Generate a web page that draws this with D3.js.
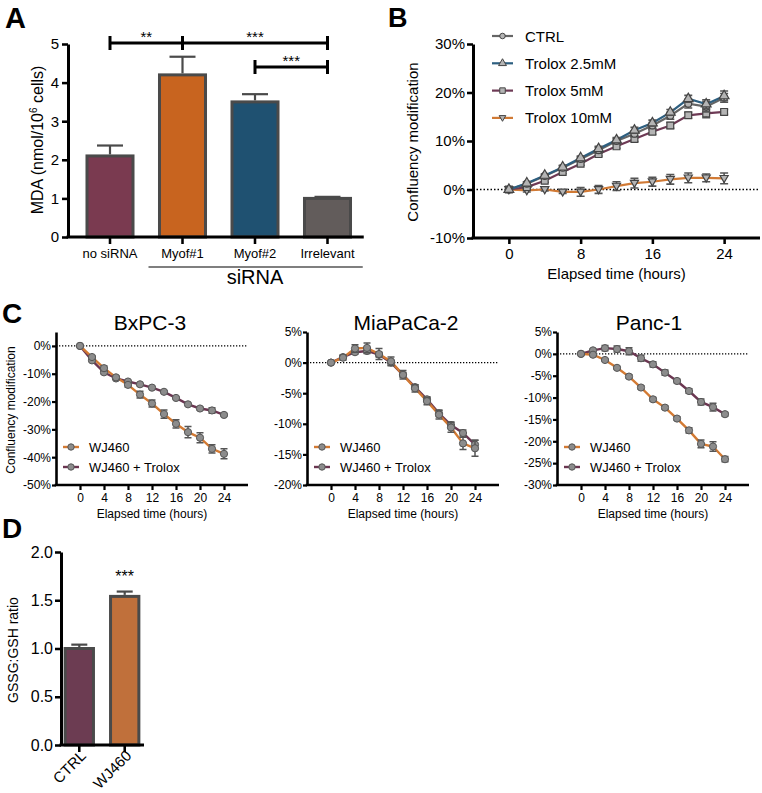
<!DOCTYPE html>
<html><head><meta charset="utf-8">
<script src="https://cdn.jsdelivr.net/npm/d3@7"></script>
<style>body{margin:0;background:#fff}svg{display:block}text{font-family:"Liberation Sans",Arial,sans-serif}</style>
</head><body>
<script>
// ---------- DATA ----------
// Panel A
const catsA = ["no siRNA","Myof#1","Myof#2","Irrelevant"];
const valsA = [2.1, 4.2, 3.5, 1.0];
const errA  = [0.27, 0.47, 0.2, 0.04];
const colorsA = ["#7a3a50","#c8641f","#1f5171","#625c5b"];
const ticksA = [0,1,2,3,4,5];
// Panel B
const timeB = [0,2,4,6,8,10,12,14,16,18,20,22,24];
const seriesB = ["CTRL","Trolox 2.5mM","Trolox 5mM","Trolox 10mM"];
const ctrlB   = [0,1.2,2.8,4.5,6.3,8.1,10.0,11.5,13.2,15.2,17.7,17.1,18.9];
const t25B    = [0,1.3,2.9,4.6,6.5,8.4,10.2,12.2,13.7,15.9,18.7,17.6,19.3];
const t5B     = [0,0.5,1.8,3.6,5.3,7.3,8.9,10.4,11.9,13.2,15.3,15.7,16.0];
const t10B    = [0,-0.2,0,-0.5,-0.5,0,0.7,1.3,1.6,2.1,2.4,2.4,2.3];
const ctrlBerr= [0,0.3,0.3,0.4,0.4,0.6,0.5,0.6,0.6,0.7,0.9,1.1,0.9];
const t25Berr = [0,0.3,0.3,0.4,0.4,0.5,0.5,0.6,0.6,0.6,0.7,0.9,1.0];
const t5Berr  = [0,0.2,0.3,0.3,0.3,0.4,0.4,0.5,0.5,0.6,0.6,0.9,0.5];
const t10Berr = [0,0.3,0.3,0.3,0.9,0.8,0.9,1.0,0.9,1.0,1.0,0.8,1.1];
const ticksBx = [0,8,16,24];
const ticksBy = [-10,0,10,20,30];
// Panel C
const timeC = [0,2,4,6,8,10,12,14,16,18,20,22,24];
const seriesC = ["WJ460","WJ460 + Trolox"];
const bxWJ   = [0,-4.0,-8.0,-11.3,-14.0,-17.5,-20.7,-24.5,-28.0,-31.0,-33.0,-37.0,-38.8];
const bxWJe  = [0,0.5,0.8,0.6,0.8,1.2,1.3,1.5,1.5,2.0,1.8,1.5,1.8];
const bxTr   = [0,-5.2,-9.5,-11.7,-12.8,-13.8,-15.0,-16.5,-18.7,-21.0,-22.5,-23.2,-24.8];
const bxTre  = [0,0.4,0.5,0.4,0.4,0.4,0.4,0.4,0.4,0.4,0.5,1.0,0.5];
const miaWJ  = [0,0.8,2.3,2.4,1.4,0.2,-2.0,-4.2,-6.3,-8.5,-10.6,-13.2,-14.0];
const miaWJe = [0,0.4,0.6,0.8,0.9,0.7,0.7,0.6,0.6,0.7,0.8,1.0,1.3];
const miaTr  = [0,0.9,1.7,1.9,1.3,0,-2.0,-4.0,-6.0,-8.3,-10.2,-11.5,-13.4];
const miaTre = [0,0.3,0.3,0.4,0.4,0.4,0.4,0.4,0.4,0.5,0.5,0.5,0.7];
const panWJ  = [0,-0.2,-1.4,-3.2,-5.2,-7.7,-10.4,-12.3,-14.8,-17.5,-20.6,-21.2,-24.1];
const panWJe = [0,0.3,0.3,0.3,0.4,0.4,0.4,0.4,0.4,0.6,0.9,1.1,0.6];
const panTr  = [0,0.8,1.3,1.1,0.6,-1.0,-2.4,-4.3,-6.2,-8.5,-11.0,-12.2,-13.8];
const panTre = [0,0.3,0.6,0.7,0.8,0.7,0.6,0.6,0.4,0.5,0.7,0.9,0.4];
const titlesC = ["BxPC-3","MiaPaCa-2","Panc-1"];
const ticksCx = [0,4,8,12,16,20,24];
const ticksBxPC = [-50,-40,-30,-20,-10,0];
const ticksMia  = [-20,-15,-10,-5,0,5];
const ticksPan  = [-30,-25,-20,-15,-10,-5,0,5];
// Panel D
const catsD = ["CTRL","WJ460"];
const valsD = [1.0, 1.54];
const errD  = [0.04, 0.05];
const colorsD = ["#6c3c52","#c0703b"];
const ticksD = [0,0.5,1.0,1.5,2.0];

// ---------- DRAW ----------
const W = 762, H = 793;
const svg = d3.select("body").append("svg").attr("width", W).attr("height", H);

function letter(t, x, y, size){
  svg.append("text").attr("x",x).attr("y",y).attr("font-family","Lato, 'Open Sans', sans-serif")
    .attr("font-weight",900).attr("font-size",size).text(t);
}
function styleAxis(g, w){
  g.selectAll("path.domain").attr("stroke","#000").attr("stroke-width",w);
  g.selectAll(".tick line").attr("stroke","#000").attr("stroke-width",w*0.85);
}

// ===== Panel A =====
(function(){
  const y = d3.scaleLinear().domain([0,5]).range([237,44]);
  const x = d3.scaleBand().domain(catsA).range([73.75,363.75]).paddingInner(0.324).paddingOuter(0.162);
  const x0 = 68;
  const g = svg.append("g");
  catsA.forEach((c,i)=>{
    g.append("rect").attr("x",x(c)+1.5).attr("width",x.bandwidth()-3)
      .attr("y",y(valsA[i])).attr("height",y(0)-y(valsA[i]))
      .attr("fill",colorsA[i]).attr("stroke","#4a4a4a").attr("stroke-width",3);
    const cx = x(c)+x.bandwidth()/2;
    g.append("line").attr("x1",cx).attr("x2",cx).attr("y1",y(valsA[i])-1.5).attr("y2",y(valsA[i]+errA[i]))
      .attr("stroke","#4a4a4a").attr("stroke-width",2.2);
    g.append("line").attr("x1",cx-13).attr("x2",cx+13).attr("y1",y(valsA[i]+errA[i])).attr("y2",y(valsA[i]+errA[i]))
      .attr("stroke","#4a4a4a").attr("stroke-width",2.2);
  });
  const ya = g.append("g").attr("transform",`translate(${x0},0)`)
    .call(d3.axisLeft(y).tickValues(ticksA).tickSize(6).tickSizeOuter(0).tickPadding(3).tickFormat(d3.format("d")));
  styleAxis(ya,3);
  ya.selectAll("text").attr("font-size",15).attr("fill","#000");
  const xa = g.append("g").attr("transform",`translate(0,${y(0)})`)
    .call(d3.axisBottom(x).tickSize(7).tickSizeOuter(0).tickPadding(5));
  xa.select("path.domain").attr("d",`M${x0-1.5},0H${x.range()[1]}`);
  styleAxis(xa,3);
  xa.selectAll("text").attr("font-size",13).attr("fill","#000");
  const yl = g.append("text").attr("transform","translate(43,140) rotate(-90)")
    .attr("text-anchor","middle").attr("font-size",16);
  yl.append("tspan").text("MDA (nmol/10");
  yl.append("tspan").attr("font-size",10).attr("dy",-6).text("6");
  yl.append("tspan").attr("dy",6).text(" cells)");
  const c1 = x("Myof#1")+x.bandwidth()/2, cI = x("Irrelevant")+x.bandwidth()/2, c2 = x("Myof#2")+x.bandwidth()/2, c0 = x("no siRNA")+x.bandwidth()/2;
  g.append("line").attr("x1",c1-34).attr("x2",x.range()[1]-1).attr("y1",267).attr("y2",267).attr("stroke","#000").attr("stroke-width",1.2);
  g.append("text").attr("x",(c1+cI)/2).attr("y",284).attr("text-anchor","middle").attr("font-size",20).text("siRNA");
  function bracket(xa_,xb,yy){
    g.append("line").attr("x1",xa_).attr("x2",xb).attr("y1",yy).attr("y2",yy).attr("stroke","#000").attr("stroke-width",3);
    [xa_,xb].forEach(xx=>g.append("line").attr("x1",xx).attr("x2",xx).attr("y1",yy-7).attr("y2",yy+7).attr("stroke","#000").attr("stroke-width",3));
  }
  bracket(c0,c1,43); bracket(c1,cI,43); bracket(c2,cI,67);
  g.append("text").attr("x",(c0+c1)/2).attr("y",42).attr("text-anchor","middle").attr("font-size",15).text("**");
  g.append("text").attr("x",(c1+cI)/2).attr("y",42).attr("text-anchor","middle").attr("font-size",15).text("***");
  g.append("text").attr("x",(c2+cI)/2).attr("y",66).attr("text-anchor","middle").attr("font-size",15).text("***");
  letter("A",5,28,29);
})();

function markerPath(shape,s){
  if(shape==="circle") return d3.symbol(d3.symbolCircle, s*s*0.8)();
  if(shape==="square") return d3.symbol(d3.symbolSquare, s*s)();
  if(shape==="tri") return d3.symbol(d3.symbolTriangle, s*s*0.9)();
  if(shape==="trid") return `M${-s*0.6},${-s*0.42}L${s*0.6},${-s*0.42}L0,${s*0.62}Z`;
}

// ===== Panel B =====
(function(){
  const x = d3.scaleLinear().domain([-4,28]).range([473,760]);
  const y = d3.scaleLinear().domain([-10,30]).range([238,44]);
  const g = svg.append("g");
  g.append("line").attr("x1",x(-4)).attr("x2",x(28)).attr("y1",y(0)).attr("y2",y(0))
    .attr("stroke","#000").attr("stroke-width",1.5).attr("stroke-dasharray","1.5,2");
  const S = [
    {name:seriesB[3], v:t10B, e:t10Berr, c:"#d17a35", m:"trid"},
    {name:seriesB[2], v:t5B,  e:t5Berr,  c:"#6e3a55", m:"square"},
    {name:seriesB[0], v:ctrlB,e:ctrlBerr,c:"#666666", m:"circle"},
    {name:seriesB[1], v:t25B, e:t25Berr, c:"#2d5f80", m:"tri"}
  ];
  const line = d3.line().x((d,i)=>x(timeB[i])).y(d=>y(d));
  S.forEach(s=>{
    g.append("path").datum(s.v).attr("d",line).attr("fill","none").attr("stroke",s.c).attr("stroke-width",2.2);
  });
  S.forEach(s=>{
    s.v.forEach((v,i)=>{
      if(s.e[i]>0){
        const xx=x(timeB[i]);
        g.append("path").attr("d",`M${xx},${y(v-s.e[i])}V${y(v+s.e[i])}M${xx-4},${y(v-s.e[i])}H${xx+4}M${xx-4},${y(v+s.e[i])}H${xx+4}`)
          .attr("stroke","#555").attr("stroke-width",1.6).attr("fill","none");
      }
      g.append("path").attr("d",markerPath(s.m,6.8)).attr("transform",`translate(${x(timeB[i])},${y(v)})`)
        .attr("fill","#b4b4b4").attr("stroke","#444").attr("stroke-width",1.2);
    });
  });
  const ya = g.append("g").attr("transform",`translate(${x(-4)},0)`)
    .call(d3.axisLeft(y).tickValues(ticksBy).tickSize(6).tickSizeOuter(0).tickPadding(2).tickFormat(d=>d+"%"));
  styleAxis(ya,3);
  ya.selectAll("text").attr("font-size",15).attr("fill","#000");
  const xa = g.append("g").attr("transform",`translate(0,${y(-10)})`)
    .call(d3.axisBottom(x).tickValues(ticksBx).tickSize(6).tickSizeOuter(0).tickPadding(4));
  xa.select("path.domain").attr("d",`M${x(-4)-1.5},0H${x(28)}`);
  styleAxis(xa,3);
  xa.selectAll("text").attr("font-size",15).attr("fill","#000");
  g.append("text").attr("x",x(12)).attr("y",279).attr("text-anchor","middle").attr("font-size",15).text("Elapsed time (hours)");
  g.append("text").attr("transform","translate(418,142) rotate(-90)").attr("text-anchor","middle").attr("font-size",15).text("Confluency modification");
  const L = [S[2],S[3],S[1],S[0]];
  L.forEach((s,i)=>{
    const yy = 36 + i*27.3;
    g.append("line").attr("x1",492).attr("x2",513).attr("y1",yy).attr("y2",yy).attr("stroke",s.c).attr("stroke-width",2.2);
    g.append("path").attr("d",markerPath(s.m,5.5)).attr("transform",`translate(502.5,${yy})`)
      .attr("fill","#b4b4b4").attr("stroke","#444").attr("stroke-width",1);
    g.append("text").attr("x",525).attr("y",yy+5.5).attr("font-size",15).text(s.name);
  });
  letter("B",388,27,27);
})();

// ===== Panel C =====
function panelC(opt){
  const x = d3.scaleLinear().domain([-4,28]).range([opt.x0, opt.x0+192]);
  const y = d3.scaleLinear().domain(opt.yd).range([485,332]);
  const g = svg.append("g");
  g.append("line").attr("x1",x(-4)).attr("x2",x(28)).attr("y1",y(0)).attr("y2",y(0))
    .attr("stroke","#000").attr("stroke-width",1.3).attr("stroke-dasharray","1.3,1.7");
  const S = [
    {name:seriesC[1], v:opt.tr, e:opt.tre, c:"#6b3651"},
    {name:seriesC[0], v:opt.wj, e:opt.wje, c:"#d37a33"}
  ];
  const line = d3.line().x((d,i)=>x(timeC[i])).y(d=>y(d));
  S.forEach(s=>g.append("path").datum(s.v).attr("d",line).attr("fill","none").attr("stroke",s.c).attr("stroke-width",2.4));
  S.forEach(s=>{
    s.v.forEach((v,i)=>{
      const xx=x(timeC[i]);
      if(s.e[i]>0){
        g.append("path").attr("d",`M${xx},${y(v-s.e[i])}V${y(v+s.e[i])}M${xx-3.5},${y(v-s.e[i])}H${xx+3.5}M${xx-3.5},${y(v+s.e[i])}H${xx+3.5}`)
          .attr("stroke","#555").attr("stroke-width",1.5).attr("fill","none");
      }
      g.append("circle").attr("cx",xx).attr("cy",y(v)).attr("r",3.6).attr("fill","#8c8c8c").attr("stroke","#555").attr("stroke-width",1);
    });
  });
  const ya = g.append("g").attr("transform",`translate(${x(-4)},0)`)
    .call(d3.axisLeft(y).tickValues(opt.ticks).tickSize(4).tickSizeOuter(0).tickPadding(1).tickFormat(d=>d+"%"));
  styleAxis(ya,2.6);
  ya.selectAll("text").attr("font-size",12).attr("fill","#000");
  const xa = g.append("g").attr("transform",`translate(0,${y(opt.yd[0])})`)
    .call(d3.axisBottom(x).tickValues(ticksCx).tickSize(5).tickSizeOuter(0).tickPadding(3));
  xa.select("path.domain").attr("d",`M${x(-4)-1.3},0H${x(28)}`);
  styleAxis(xa,2.6);
  xa.selectAll("text").attr("font-size",12).attr("fill","#000");
  g.append("text").attr("x",x(12)).attr("y",518).attr("text-anchor","middle").attr("font-size",12).text("Elapsed time (hours)");
  g.append("text").attr("x",opt.tx).attr("y",330).attr("text-anchor","middle")
    .attr("font-family","Lato, 'Open Sans', sans-serif").attr("font-size",21).text(opt.title);
  [S[1],S[0]].forEach((s,i)=>{
    const yy = 447 + i*20;
    g.append("line").attr("x1",x(-4)+7).attr("x2",x(-4)+23).attr("y1",yy).attr("y2",yy).attr("stroke",s.c).attr("stroke-width",2.4);
    g.append("circle").attr("cx",x(-4)+15).attr("cy",yy).attr("r",3.2).attr("fill","#8c8c8c").attr("stroke","#555").attr("stroke-width",1);
    g.append("text").attr("x",x(-4)+33).attr("y",yy+4.5).attr("font-size",13).text(s.name);
  });
}
panelC({x0:56, yd:[-50,5], ticks:ticksBxPC, wj:bxWJ, wje:bxWJe, tr:bxTr, tre:bxTre, title:titlesC[0], tx:150});
panelC({x0:307, yd:[-20,5], ticks:ticksMia, wj:miaWJ, wje:miaWJe, tr:miaTr, tre:miaTre, title:titlesC[1], tx:406});
panelC({x0:557, yd:[-30,5], ticks:ticksPan, wj:panWJ, wje:panWJe, tr:panTr, tre:panTre, title:titlesC[2], tx:649});
svg.append("text").attr("transform","translate(15,410) rotate(-90)").attr("text-anchor","middle").attr("font-size",12).text("Confluency modification");
letter("C",2,323,28);

// ===== Panel D =====
(function(){
  const y = d3.scaleLinear().domain([0,2]).range([745,552]);
  const x = d3.scaleBand().domain(catsD).range([60,144]).paddingInner(0.31).paddingOuter(0.08);
  const x0 = 61;
  const g = svg.append("g");
  catsD.forEach((c,i)=>{
    g.append("rect").attr("x",x(c)+1.5).attr("width",x.bandwidth()-3)
      .attr("y",y(valsD[i])).attr("height",y(0)-y(valsD[i]))
      .attr("fill",colorsD[i]).attr("stroke","#4a4a4a").attr("stroke-width",3);
    const cx = x(c)+x.bandwidth()/2;
    g.append("line").attr("x1",cx).attr("x2",cx).attr("y1",y(valsD[i])-1.5).attr("y2",y(valsD[i]+errD[i]))
      .attr("stroke","#4a4a4a").attr("stroke-width",2.2);
    g.append("line").attr("x1",cx-8).attr("x2",cx+8).attr("y1",y(valsD[i]+errD[i])).attr("y2",y(valsD[i]+errD[i]))
      .attr("stroke","#4a4a4a").attr("stroke-width",2.2);
  });
  const ya = g.append("g").attr("transform",`translate(${x0},0)`)
    .call(d3.axisLeft(y).tickValues(ticksD).tickSize(6).tickSizeOuter(0).tickPadding(2).tickFormat(d3.format(".1f")));
  styleAxis(ya,3);
  ya.selectAll("text").attr("font-size",16).attr("fill","#000");
  const xa = g.append("g").attr("transform",`translate(0,${y(0)})`)
    .call(d3.axisBottom(x).tickSize(7).tickSizeOuter(0));
  xa.select("path.domain").attr("d",`M${x0-1.5},0H${x.range()[1]}`);
  styleAxis(xa,3);
  xa.selectAll("text").attr("font-size",15).attr("fill","#000")
    .attr("text-anchor","end").attr("transform","translate(4,8) rotate(-45)").attr("dy","0.35em").attr("y",0).attr("x",0);
  g.append("text").attr("transform","translate(18,650) rotate(-90)").attr("text-anchor","middle").attr("font-size",14).text("GSSG:GSH ratio");
  g.append("text").attr("x",x("WJ460")+x.bandwidth()/2).attr("y",582).attr("text-anchor","middle").attr("font-size",16).text("***");
  letter("D",2,538,28);
})();
</script>
</body></html>
